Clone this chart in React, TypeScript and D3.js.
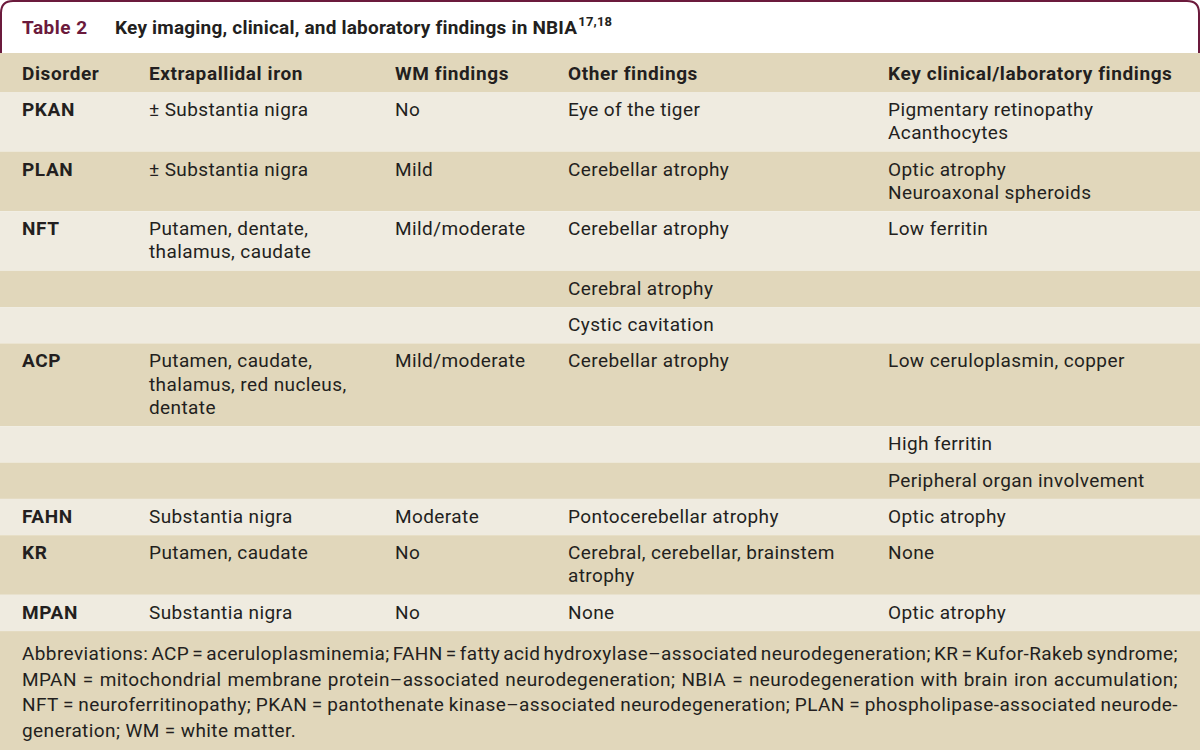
import React, { useEffect, useRef } from 'react';
import * as d3 from 'd3';

// table content, one array per column
const headers = ['Disorder', 'Extrapallidal iron', 'WM findings', 'Other findings', 'Key clinical/laboratory findings'];
const disorders = ['PKAN', 'PLAN', 'NFT', '', '', 'ACP', '', '', 'FAHN', 'KR', 'MPAN'];
const extrapallidal = [
    ['± Substantia nigra'],
    ['± Substantia nigra'],
    ['Putamen, dentate,', 'thalamus, caudate'],
    [],
    [],
    ['Putamen, caudate,', 'thalamus, red nucleus,', 'dentate'],
    [],
    [],
    ['Substantia nigra'],
    ['Putamen, caudate'],
    ['Substantia nigra'],
];
const wmFindings = ['No', 'Mild', 'Mild/moderate', '', '', 'Mild/moderate', '', '', 'Moderate', 'No', 'No'];
const otherFindings = [
    ['Eye of the tiger'],
    ['Cerebellar atrophy'],
    ['Cerebellar atrophy'],
    ['Cerebral atrophy'],
    ['Cystic cavitation'],
    ['Cerebellar atrophy'],
    [],
    [],
    ['Pontocerebellar atrophy'],
    ['Cerebral, cerebellar, brainstem', 'atrophy'],
    ['None'],
];
const keyFindings = [
    ['Pigmentary retinopathy', 'Acanthocytes'],
    ['Optic atrophy', 'Neuroaxonal spheroids'],
    ['Low ferritin'],
    [],
    [],
    ['Low ceruloplasmin, copper'],
    ['High ferritin'],
    ['Peripheral organ involvement'],
    ['Optic atrophy'],
    ['None'],
    ['Optic atrophy'],
];
const footnoteLines = [
    'Abbreviations: ACP = aceruloplasminemia; FAHN = fatty acid hydroxylase–associated neurodegeneration; KR = Kufor-Rakeb syndrome;',
    'MPAN = mitochondrial membrane protein–associated neurodegeneration; NBIA = neurodegeneration with brain iron accumulation;',
    'NFT = neuroferritinopathy; PKAN = pantothenate kinase–associated neurodegeneration; PLAN = phospholipase-associated neurode-',
    'generation; WM = white matter.',
];

const W = 1200;
const H = 750;
const TAN = '#e1d7bb';
const LIGHT = '#efebe0';
const INK = '#231f20';
const MAROON = '#6b1a3c';
const FONT = 'Roboto, "Liberation Sans", sans-serif';
const BODY = { fontSize: 19, letterSpacing: 0.4 };
const BOLD = { fontSize: 19, letterSpacing: 0.6, fontWeight: 'bold' as const };

function App() {
    const footRef = useRef<SVGGElement>(null);

    const rows = disorders.map((d, i) => ({
        disorder: d,
        cells: [extrapallidal[i], [wmFindings[i]].filter(Boolean), otherFindings[i], keyFindings[i]],
    }));
    const lineCount = rows.map((r) => Math.max(1, ...r.cells.map((c) => c.length)));
    const rowHeights = lineCount.map((n) => 13 + 23.3 * n);
    const headerTop = 53;
    const headerBottom = 92;
    const rowTops = [headerBottom, ...Array.from(d3.cumsum(rowHeights)).map((v) => headerBottom + v)];

    const colX = d3.scaleOrdinal<number, number>().domain([0, 1, 2, 3, 4]).range([22, 149, 395, 568, 888]);

    // justify footnote lines like the printed page
    useEffect(() => {
        const g = d3.select(footRef.current);
        g.selectAll<SVGTextElement, unknown>('text.just').each(function () {
            const el = this;
            el.setAttribute('word-spacing', '0');
            const natural = el.getComputedTextLength();
            const spaces = (el.textContent || '').split(' ').length - 1;
            const target = 1178 - 22;
            if (spaces > 0) el.setAttribute('word-spacing', String((target - natural) / spaces));
        });
    });

    const footTop = rowTops[rowTops.length - 1];

    return (
        <svg width={W} height={H} style={{ position: 'absolute', left: 0, top: 0, fontFamily: FONT }}>
            <rect x={0} y={0} width={W} height={H} fill="#ffffff" />
            {/* frame around title */}
            <path
                d={`M1,${headerTop} V13 Q1,1 13,1 H1187 Q1199,1 1199,13 V${headerTop}`}
                fill="none"
                stroke={MAROON}
                strokeWidth={2}
            />
            <text x={22} y={34} fontSize={19} letterSpacing={0.5} fontWeight="bold" fill={MAROON}>
                Table 2
            </text>
            <text x={115} y={34} fontSize={19} letterSpacing={0.2} fontWeight="bold" fill={INK}>
                Key imaging, clinical, and laboratory findings in NBIA
                <tspan fontSize={13} dx={1} dy={-8}>17,18</tspan>
            </text>

            {/* header */}
            <rect x={0} y={headerTop} width={W} height={headerBottom - headerTop} fill={TAN} />
            {headers.map((h, i) => (
                <text key={h} x={colX(i)} y={80} {...BOLD} fill={INK}>
                    {h}
                </text>
            ))}

            {/* body rows */}
            {rows.map((r, i) => (
                <g key={i} transform={`translate(0, ${rowTops[i]})`}>
                    <rect x={0} y={0} width={W} height={rowHeights[i]} fill={i % 2 === 0 ? LIGHT : TAN} />
                    {r.disorder && (
                        <text x={colX(0)} y={24} {...BOLD} fill={INK}>
                            {r.disorder}
                        </text>
                    )}
                    {r.cells.map((lines, c) => (
                        <text key={c} {...BODY} fill={INK}>
                            {lines.map((l, k) => (
                                <tspan key={k} x={colX(c + 1)} y={24 + 23.3 * k}>
                                    {l}
                                </tspan>
                            ))}
                        </text>
                    ))}
                </g>
            ))}

            {/* footnote */}
            <rect x={0} y={footTop} width={W} height={H - footTop} fill={TAN} />
            <g ref={footRef}>
                {footnoteLines.map((l, i) => (
                    <text
                        key={i}
                        className={i < footnoteLines.length - 1 ? 'just' : ''}
                        x={22}
                        y={footTop + 29 + 25.5 * i}
                        {...BODY}
                        fill={INK}
                    >
                        {l}
                    </text>
                ))}
            </g>
        </svg>
    );
}

export default App;
